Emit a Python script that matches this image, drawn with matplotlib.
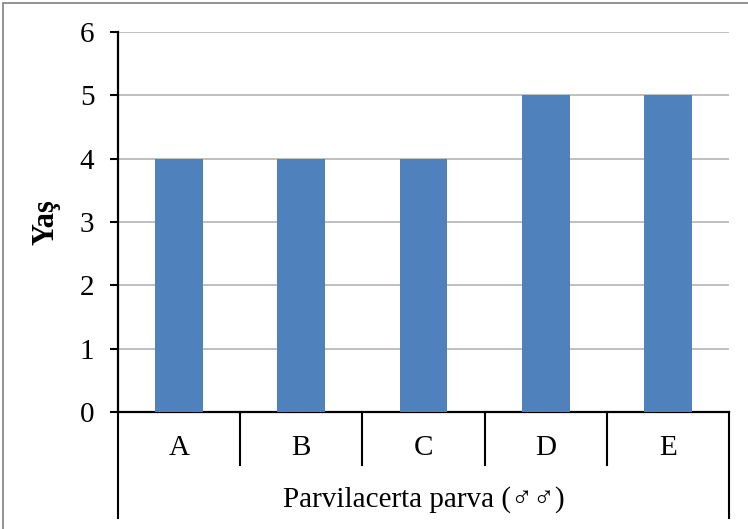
import matplotlib.pyplot as plt
import matplotlib.transforms as mtransforms
from matplotlib.patches import Rectangle
import numpy as np

# age per individual
labels = ['A', 'B', 'C', 'D', 'E']
ages = [4, 4, 4, 5, 5]
group_label = 'Parvilacerta parva (\u2642\u2642)'

plt.rcParams['font.family'] = ['Liberation Serif', 'DejaVu Sans']

W, H = 748, 529
fig = plt.figure(figsize=(W / 100, H / 100), dpi=100)
ax = fig.add_axes([118 / W, 1 - 412 / H, (729 - 118) / W, (412 - 32) / H])

x = np.arange(len(labels))
ax.bar(x, ages, width=0.39, color='#4F81BD', zorder=3)

ax.set_xlim(-0.5, len(labels) - 0.5)
ax.set_ylim(0, 6)
ax.set_yticks(range(0, 7))
ax.yaxis.grid(True, color='#BFBFBF', lw=1.4, zorder=0)
ax.set_xticks([])
ax.tick_params(axis='y', direction='out', length=6, width=1.5, pad=11, labelsize=21)

for s in ['top', 'right']:
    ax.spines[s].set_visible(False)
for s in ['left', 'bottom']:
    ax.spines[s].set_linewidth(1.6)

ax.set_ylabel('Yaş', fontsize=22, fontweight='bold', labelpad=14)

# two-level category axis
trans = mtransforms.blended_transform_factory(ax.transData, ax.transAxes)
inner = -(465 - 412) / 380
outer = -(518 - 412) / 380
edges = np.arange(len(labels) + 1) - 0.5
for i, e in enumerate(edges):
    y1 = outer if i in (0, len(edges) - 1) else inner
    ax.plot([e, e], [0, y1], color='black', lw=1.5, transform=trans, clip_on=False)
for xi, lab in zip(x, labels):
    ax.text(xi, -(448 - 412) / 380, lab, transform=trans, ha='center', va='center', fontsize=21)
ax.text(np.mean(x), -(500 - 412) / 380, group_label, transform=trans,
        ha='center', va='center', fontsize=21,
        family=['Liberation Serif', 'Noto Sans CJK JP', 'DejaVu Sans'])

# chart area border
fig.patches.append(Rectangle((3 / W, -0.1), 1.2, 1 - 2.5 / H + 0.1, transform=fig.transFigure,
                             fill=False, edgecolor='#808080', lw=1.2))

fig.savefig('out.png', dpi=100)
